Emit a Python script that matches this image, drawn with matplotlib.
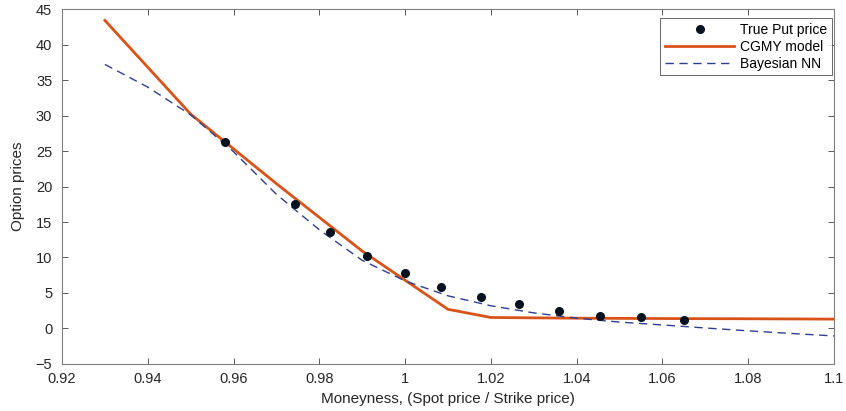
import matplotlib.pyplot as plt
import numpy as np

plt.rcParams['font.family'] = ['Liberation Sans', 'DejaVu Sans']

# True put prices (markers)
put_x = [0.958, 0.9743, 0.9825, 0.991, 1.0, 1.0084, 1.0176, 1.0266, 1.0359, 1.0454, 1.055, 1.065]
put_y = [26.2, 17.5, 13.6, 10.25, 7.86, 5.89, 4.49, 3.41, 2.46, 1.80, 1.58, 1.20]

# CGMY model curve
cgmy_x = [0.93, 0.95, 0.97, 0.99, 1.01, 1.02, 1.04, 1.06, 1.08, 1.1]
cgmy_y = [43.4, 30.2, 20.4, 10.9, 2.7, 1.55, 1.45, 1.4, 1.37, 1.32]

# Bayesian NN curve
nn_x = [0.93, 0.94, 0.95, 0.96, 0.97, 0.98, 0.99, 1.0, 1.01, 1.02, 1.03, 1.04,
        1.05, 1.06, 1.07, 1.08, 1.09, 1.1]
nn_y = [37.2, 34.0, 30.1, 24.9, 18.9, 13.9, 9.6, 6.7, 4.6, 3.2, 2.2, 1.45,
        0.9, 0.5, 0.07, -0.33, -0.7, -1.05]

fig = plt.figure(figsize=(8.46, 4.11), dpi=100)
ax = fig.add_axes([0.0733, 0.1144, 0.9125, 0.8636])

ax.plot(put_x, put_y, 'o', color='#06121f', markersize=5.5, label='True Put price', zorder=3)
ax.plot(cgmy_x, cgmy_y, '-', color='#D95319', linewidth=2, label='CGMY model')
ax.plot(nn_x, nn_y, '--', color='#2E3F8F', linewidth=1, dashes=(6, 4), label='Bayesian NN')

ax.set_xlim(0.92, 1.1)
ax.set_ylim(-5, 45)
ax.set_xticks(np.arange(0.92, 1.101, 0.02))
ax.set_xticklabels(['0.92', '0.94', '0.96', '0.98', '1', '1.02', '1.04', '1.06', '1.08', '1.1'])
ax.set_yticks(range(-5, 46, 5))

ax.tick_params(direction='in', top=True, right=True, length=4, width=0.6,
               colors='#404040', labelsize=10.5, labelcolor='#262626')
ax.tick_params(axis='x', pad=6)
ax.tick_params(axis='y', pad=7)
for s in ax.spines.values():
    s.set_color('#7f7f7f')
    s.set_linewidth(0.8)

ax.set_xlabel('Moneyness, (Spot price / Strike price)', fontsize=11, color='#262626', labelpad=4)
ax.set_ylabel('Option prices', fontsize=11, color='#262626', labelpad=8)

leg = ax.legend(loc='upper right', fontsize=10, frameon=True, fancybox=False,
                edgecolor='#262626', bbox_to_anchor=(0.9835, 0.956),
                bbox_transform=fig.transFigure, borderaxespad=0, handlelength=5,
                borderpad=0.35, labelspacing=0.2, handletextpad=0.4)
leg.get_frame().set_linewidth(0.6)

fig.savefig('out.png', dpi=100)
